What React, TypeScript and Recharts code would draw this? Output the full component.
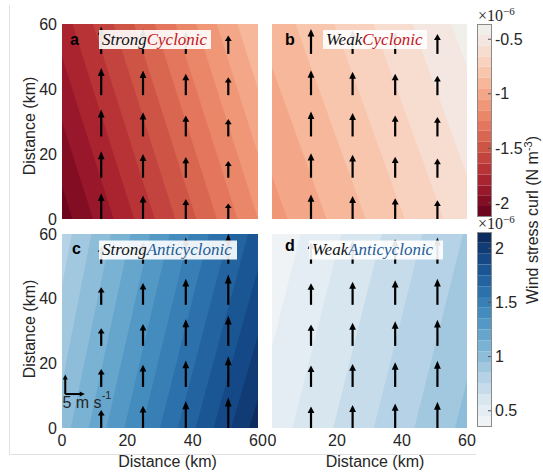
import React from 'react'
import {
  ComposedChart, ScatterChart, BarChart, Area, Bar, Scatter, XAxis, YAxis,
} from 'recharts'

// colour levels, lightest first
const REDS = ['#f1efea', '#f4e6e0', '#f7dcd0', '#f9d1bf', '#f8c5ad', '#f6b79a', '#f3a788', '#f09777', '#ea8769',
  '#e3765c', '#d96651', '#ce5546', '#c3443e', '#b83336', '#aa2430', '#98172a', '#830e24', '#6b061e']
const BLUES = ['#eff3f6', '#e4edf3', '#d7e6ef', '#c7dceb', '#b5d2e6', '#a2c8e0', '#8ebdda', '#7ab2d4', '#66a6cd',
  '#5499c5', '#448cbd', '#377fb5', '#2c71ab', '#2263a0', '#1a5694', '#144886', '#103b74', '#0c2d5e']

// colorbar level edges (x1e-6), lightest first
const redEdges = [-0.36, -0.46, -0.56, -0.66, -0.75, -0.85, -0.95, -1.05, -1.15, -1.25, -1.34, -1.44, -1.54,
  -1.64, -1.74, -1.84, -1.93, -2.03, -2.13]
const blueEdges = [0.35, 0.45, 0.55, 0.65, 0.75, 0.85, 0.95, 1.05, 1.15, 1.25, 1.35, 1.45, 1.55, 1.65, 1.75,
  1.85, 1.95, 2.05, 2.15]
const redTicks = [-2, -1.5, -1, -0.5]
const blueTicks = [0.5, 1, 1.5, 2]

// contour edges, right to left: x (km) where each edge meets y=0 and y=60, and the level on its left
const aBottomX = [79.0, 72.6, 66.3, 60.0, 53.7, 47.4, 41.1, 34.7, 28.4, 22.1, 15.8, 9.5, 3.2]
const aTopX = [60.0, 53.7, 47.4, 41.1, 34.7, 28.4, 22.1, 15.8, 9.5, 3.2, -3.2, -9.5, -15.8]
const aLevel = [5, 6, 7, 8, 9, 10, 11, 12, 13, 14, 15, 16, 17]

const bBottomX = [76.8, 64.8, 52.8, 40.8, 28.8, 16.8, 4.8]
const bTopX = [55.2, 43.2, 31.2, 19.2, 7.2, -4.8, -16.8]
const bLevel = [1, 2, 3, 4, 5, 6, 7]

const cBottomX = [57.3, 51.8, 46.4, 40.9, 35.5, 30.0, 24.5, 19.1, 13.6, 8.2, 2.7, -2.7, -8.2]
const cTopX = [75, 69, 63, 57, 51, 45, 39, 33, 27, 21, 15, 9, 3]
const cLevel = [16, 15, 14, 13, 12, 11, 10, 9, 8, 7, 6, 5, 4]

const dBottomX = [56.3, 43.8, 31.3, 18.8, 6.3, -6.3]
const dTopX = [71.3, 58.8, 46.3, 33.8, 21.3, 8.8]
const dLevel = [5, 4, 3, 2, 1, 0]

// wind arrows (m/s), rows bottom to top
const arrowX = [12.0, 24.8, 37.9, 50.9]
const arrowY = [0, 12.7, 25.4, 38.1, 50.8]
const aSpeed = [
  [6.6, 6.0, 5.1, 4.0],
  [6.8, 6.1, 5.3, 4.3],
  [6.9, 6.2, 5.4, 4.5],
  [7.0, 6.3, 5.5, 4.6],
  [7.0, 6.3, 5.6, 4.7],
]
const bSpeed = [
  [6.3, 5.9, 5.3, 4.8],
  [6.3, 5.9, 5.4, 4.9],
  [6.4, 6.0, 5.4, 5.0],
  [6.4, 6.0, 5.5, 5.0],
  [6.4, 6.0, 5.5, 5.1],
]
const cSpeed = [
  [4.6, 5.7, 6.9, 7.9],
  [4.6, 5.7, 6.8, 7.9],
  [4.5, 5.6, 6.8, 7.8],
  [4.5, 5.6, 6.7, 7.8],
  [4.4, 5.5, 6.7, 7.7],
]
const dSpeed = [
  [5.5, 5.9, 6.3, 6.7],
  [5.5, 5.9, 6.3, 6.7],
  [5.5, 5.9, 6.3, 6.7],
  [5.5, 5.9, 6.3, 6.7],
  [5.5, 5.9, 6.3, 6.7],
]
const keyArrow = [{ x: 1.0, y: 10.5, v: 5 }]

const PX_PER_MS = 3.9
const INK = '#262626'
const SANS = '"Liberation Sans", Arial, sans-serif'
const SERIF = '"Liberation Serif", "Times New Roman", serif'
const tickStyle = { fontSize: 16, fill: INK, fontFamily: SANS }

function fieldRows(bottomX: number[], topX: number[]) {
  const lo: any = { y: 0 }
  const hi: any = { y: 60 }
  bottomX.forEach((v, i) => {
    lo[`e${i}`] = v
    hi[`e${i}`] = topX[i]
  })
  return [lo, hi]
}

function arrowPoints(speeds: number[][]) {
  return arrowY.flatMap((y, r) => arrowX.map((x, c) => ({ x, y, v: speeds[r][c] })))
}

function Arrow(props: any) {
  const { cx, cy, payload } = props
  const len = payload.v * PX_PER_MS
  const head = len * 0.3
  const half = 3.4
  const tip = cy - len
  return (
    <g>
      <line x1={cx} y1={cy} x2={cx} y2={tip + head * 0.7} stroke="#000" strokeWidth={2.2} />
      <polygon points={`${cx},${tip} ${cx - half},${tip + head} ${cx + half},${tip + head}`} fill="#000" />
    </g>
  )
}

function KeyArrow(props: any) {
  const { cx, cy, payload } = props
  const len = payload.v * PX_PER_MS
  const head = 5
  const half = 2.5
  return (
    <g>
      <line x1={cx} y1={cy} x2={cx} y2={cy - len + head * 0.7} stroke="#000" strokeWidth={2} />
      <polygon points={`${cx},${cy - len} ${cx - half},${cy - len + head} ${cx + half},${cy - len + head}`} fill="#000" />
      <line x1={cx} y1={cy} x2={cx + len - head * 0.7} y2={cy} stroke="#000" strokeWidth={2} />
      <polygon points={`${cx + len},${cy} ${cx + len - head},${cy - half} ${cx + len - head},${cy + half}`} fill="#000" />
    </g>
  )
}

interface PanelProps {
  left: number
  top: number
  w: number
  h: number
  bottomX: number[]
  topX: number[]
  levels: number[]
  base: number
  palette: string[]
  speeds: number[][]
  showX: boolean
  showY: boolean
  withKey?: boolean
}

function Panel(p: PanelProps) {
  const rows = fieldRows(p.bottomX, p.topX)
  return (
    <>
      <div style={{ position: 'absolute', left: p.left, top: p.top, width: p.w, height: p.h, background: p.palette[p.base] }}>
        <ComposedChart layout="vertical" width={p.w} height={p.h} data={rows} margin={{ top: 0, right: 0, bottom: 0, left: 0 }}>
          <XAxis type="number" domain={[0, 60]} allowDataOverflow hide />
          <YAxis type="number" dataKey="y" domain={[0, 60]} allowDataOverflow hide reversed />
          {p.levels.map((lv, i) => (
            <Area key={i} type="linear" dataKey={`e${i}`} fill={p.palette[lv]} fillOpacity={1} stroke="none"
              dot={false} activeDot={false} isAnimationActive={false} />
          ))}
        </ComposedChart>
      </div>
      <div style={{ position: 'absolute', left: p.left - 60, top: p.top - 10 }}>
        <ScatterChart width={p.w + 70} height={p.h + 40} margin={{ top: 10, right: 10, bottom: 0, left: 0 }}>
          <XAxis type="number" dataKey="x" domain={[0, 60]} ticks={[0, 20, 40, 60]} height={30}
            tick={p.showX ? tickStyle : false} axisLine={false} tickLine={false} tickSize={0} tickMargin={7} />
          <YAxis type="number" dataKey="y" domain={[0, 60]} ticks={[0, 20, 40, 60]} width={60}
            tick={p.showY ? tickStyle : false} axisLine={false} tickLine={false} tickSize={0} tickMargin={5} />
          <Scatter data={arrowPoints(p.speeds)} shape={(s: any) => <Arrow {...s} />} isAnimationActive={false} />
          {p.withKey && <Scatter data={keyArrow} shape={(s: any) => <KeyArrow {...s} />} isAnimationActive={false} />}
        </ScatterChart>
      </div>
    </>
  )
}

function Colorbar({ top, h, edges, colors, ticks }: { top: number; h: number; edges: number[]; colors: string[]; ticks: number[] }) {
  const lo = Math.min(edges[0], edges[edges.length - 1])
  const hi = Math.max(edges[0], edges[edges.length - 1])
  // one stacked column: an empty pad from 0 to the first edge, then one segment per level
  const row: any = { k: 'cb', pad: edges[0] }
  colors.forEach((_, i) => {
    row[`s${i}`] = edges[i + 1] - edges[i]
  })
  return (
    <>
      <div style={{ position: 'absolute', left: 477, top }}>
        <BarChart width={60} height={h} data={[row]} margin={{ top: 0, right: 0, bottom: 0, left: 0 }} barCategoryGap={0}>
          <XAxis type="category" dataKey="k" hide />
          <YAxis type="number" orientation="right" domain={[lo, hi]} allowDataOverflow ticks={ticks} width={45}
            tick={tickStyle} axisLine={false} tickLine={{ stroke: '#555' }} tickSize={-4} tickMargin={7} />
          <Bar dataKey="pad" stackId="cb" fill="none" isAnimationActive={false} />
          {colors.map((c, i) => (
            <Bar key={i} dataKey={`s${i}`} stackId="cb" fill={c} isAnimationActive={false} />
          ))}
        </BarChart>
      </div>
      <div style={{ position: 'absolute', left: 477, top, width: 15, height: h, boxSizing: 'border-box', border: '1px solid #8a8a8a' }} />
    </>
  )
}

function TitleBox({ x, y, w, first, second, color }: { x: number; y: number; w: number; first: string; second: string; color: string }) {
  return (
    <g>
      <rect x={x} y={y} width={w} height={19} fill="#fff" fillOpacity={0.9} />
      <text x={x + 3} y={y + 14.5} fontFamily={SERIF} fontStyle="italic" fontSize={17} fill="#111">
        {first}<tspan fill={color}>{second}</tspan>
      </text>
    </g>
  )
}

export default function App() {
  return (
    <div style={{ position: 'absolute', left: 0, top: 0, width: 543, height: 476, background: '#fff', fontFamily: SANS }}>
      <div style={{ position: 'absolute', left: 9, top: 5, width: 466, height: 449, borderLeft: '1px solid #e0e0e0', borderBottom: '1px solid #e0e0e0' }} />
      <Panel left={62} top={24} w={196} h={195} bottomX={aBottomX} topX={aTopX} levels={aLevel} base={4}
        palette={REDS} speeds={aSpeed} showX={false} showY />
      <Panel left={272} top={24} w={195} h={195} bottomX={bBottomX} topX={bTopX} levels={bLevel} base={0}
        palette={REDS} speeds={bSpeed} showX={false} showY={false} />
      <Panel left={62} top={234} w={196} h={194} bottomX={cBottomX} topX={cTopX} levels={cLevel} base={17}
        palette={BLUES} speeds={cSpeed} showX showY withKey />
      <Panel left={272} top={234} w={195} h={194} bottomX={dBottomX} topX={dTopX} levels={dLevel} base={6}
        palette={BLUES} speeds={dSpeed} showX showY={false} />
      <Colorbar top={24} h={193} edges={redEdges} colors={REDS} ticks={redTicks} />
      <Colorbar top={232} h={195} edges={blueEdges} colors={BLUES} ticks={blueTicks} />
      <svg width={543} height={476} style={{ position: 'absolute', left: 0, top: 0, pointerEvents: 'none' }}>
        <TitleBox x={99} y={30} w={112} first="Strong" second="Cyclonic" color="#c3161c" />
        <TitleBox x={323} y={30} w={104} first="Weak" second="Cyclonic" color="#c3161c" />
        <TitleBox x={99} y={240.5} w={138} first="Strong" second="Anticyclonic" color="#1f5b95" />
        <TitleBox x={309} y={240.5} w={134} first="Weak" second="Anticyclonic" color="#1f5b95" />
        <g fontFamily={SANS} fontWeight="bold" fontSize={16} fill="#000">
          <text x={70} y={45}>a</text>
          <text x={285} y={45}>b</text>
          <text x={72} y={253.5}>c</text>
          <text x={285} y={251}>d</text>
        </g>
        <g fontFamily={SANS} fontSize={16} fill={INK}>
          <text x={34.5} y={126} textAnchor="middle" transform="rotate(-90 34.5 126)">Distance (km)</text>
          <text x={34.5} y={329} textAnchor="middle" transform="rotate(-90 34.5 329)">Distance (km)</text>
          <text x={167.5} y={467} textAnchor="middle">Distance (km)</text>
          <text x={375} y={467} textAnchor="middle">Distance (km)</text>
          <text x={538} y={220} textAnchor="middle" transform="rotate(-90 538 220)">
            Wind stress curl (N m<tspan dy={-6} fontSize={11}>-3</tspan><tspan dy={6}>)</tspan>
          </text>
          <text x={62.5} y={408}>
            5 m s<tspan dy={-9} fontSize={11}>-1</tspan>
          </text>
        </g>
        <g fontFamily={SERIF} fontSize={16} fill={INK}>
          <text x={478} y={21}>×10<tspan dy={-6} fontSize={11}>−6</tspan></text>
          <text x={478} y={229}>×10<tspan dy={-6} fontSize={11}>−6</tspan></text>
        </g>
      </svg>
    </div>
  )
}
